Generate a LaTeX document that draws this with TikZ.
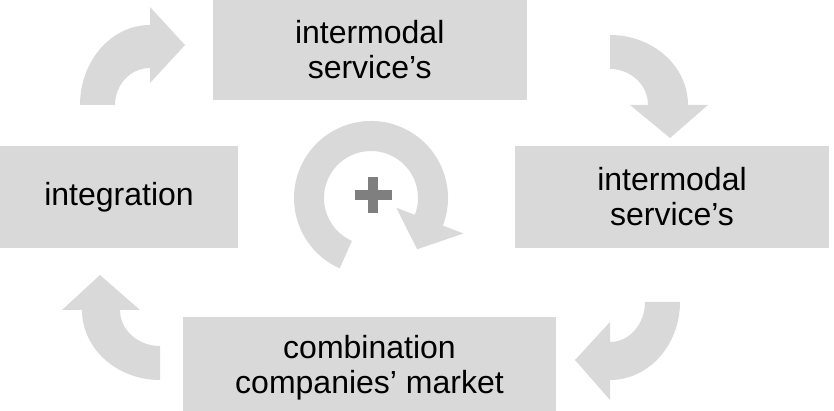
\documentclass[tikz,border=0pt]{standalone}
\usepackage{fontspec}
\setmainfont{Liberation Sans}
\definecolor{boxgray}{HTML}{D9D9D9}
\definecolor{plusgray}{HTML}{7F7F7F}
\begin{document}
\begin{tikzpicture}[x=1pt,y=1pt,
  box/.style={fill=boxgray,draw=none,inner sep=0pt,outer sep=0pt,align=center,
    font=\fontsize{32}{35}\selectfont,text=black},
  blockarrow/.style={fill=boxgray,draw=none}]
\useasboundingbox (0,0) rectangle (834,411);
% boxes
\node[box,minimum width=314pt,minimum height=100pt] (top) at (369.7,361) {intermodal\\service’s};
\node[box,minimum width=314pt,minimum height=102pt] (right) at (672,214) {intermodal\\service’s};
\node[box,minimum width=238pt,minimum height=102pt] (left) at (119,214) {integration};
\node[box,minimum width=373pt,minimum height=102pt] (bottom) at (369.5,43) {combination\\companies’ market};
% top-left curved arrow
\fill[blockarrow] (80,306) arc[start angle=180,end angle=90,x radius=70,y radius=80]
  -- (150,404) -- (185,366) -- (150,328) -- (150,343)
  arc[start angle=90,end angle=180,x radius=35,y radius=37] -- cycle;
% top-right curved arrow
\fill[blockarrow] (610,376) arc[start angle=90,end angle=0,x radius=78,y radius=70]
  -- (708,306) -- (670,273) -- (630,306) -- (648,306)
  arc[start angle=0,end angle=90,x radius=38,y radius=36] -- cycle;
% bottom-right curved arrow
\fill[blockarrow] (680,109) arc[start angle=0,end angle=-90,x radius=70,y radius=78]
  -- (610,11) -- (575,51) -- (610,89) -- (610,69)
  arc[start angle=-90,end angle=0,x radius=35,y radius=40] -- cycle;
% bottom-left curved arrow
\fill[blockarrow] (160,31) arc[start angle=-90,end angle=-180,x radius=78,y radius=70]
  -- (62,101) -- (100,136) -- (140,101) -- (120,101)
  arc[start angle=180,end angle=270,x radius=40,y radius=36] -- cycle;
% central circular arrow
\begin{scope}[shift={(371,213)}]
\fill[blockarrow] (246:77) arc[start angle=246,end angle=-21,radius=77]
  -- (-21:99) -- (-48:69) -- (-21:27) -- (-21:47)
  arc[start angle=-21,end angle=246,radius=47] -- cycle;
\end{scope}
% plus sign
\fill[plusgray] (355,211) rectangle (392,221);
\fill[plusgray] (368,198) rectangle (378,234);
\end{tikzpicture}
\end{document}
